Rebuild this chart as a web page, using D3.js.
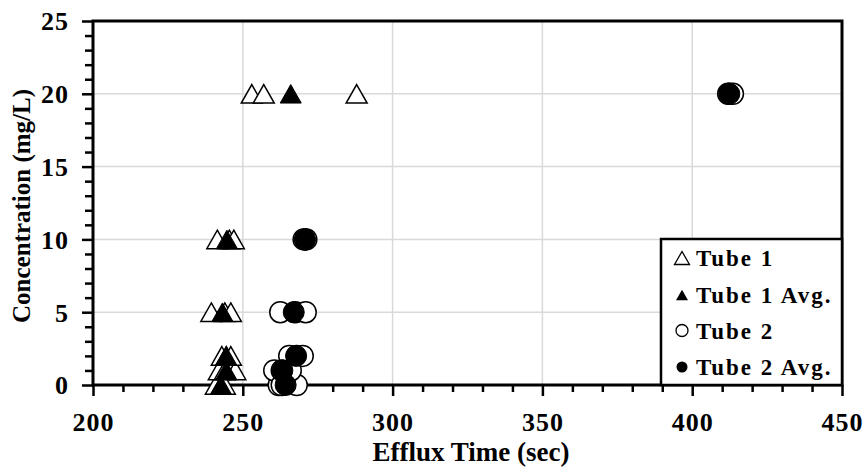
<!DOCTYPE html>
<html><head><meta charset="utf-8">
<script src="https://cdn.jsdelivr.net/npm/d3@7"></script>
<style>
html,body{margin:0;padding:0;background:#fff;}
text{font-family:"Liberation Serif","Times New Roman",serif;font-weight:bold;fill:#000;}
</style></head>
<body><svg id="c" width="867" height="470"></svg>
<script>
// ---- data ----
const concentrations = [0, 1, 2, 5, 10, 20];
const tube1Rep1 = [241, 242, 243, 239.5, 241.5, 253];
const tube1Rep2 = [243, 244, 244.5, 244, 245.5, 257];
const tube1Rep3 = [244, 247.5, 246, 246, 247, 288];
const tube1Avg  = [242.7, 244.5, 244.5, 243.2, 244.7, 266];
const tube2Rep1 = [262, 260.5, 265.5, 262.5, 270.3, 412];
const tube2Rep2 = [263, 263, 268, 267.5, 270.8, 412.5];
const tube2Rep3 = [268, 266, 270, 271, 271.2, 413.6];
const tube2Avg  = [264.3, 263.2, 267.8, 267, 270.8, 412.4];
const xTicks = [200, 250, 300, 350, 400, 450];
const yTicks = [0, 5, 10, 15, 20, 25];
const legendLabels = ["Tube 1", "Tube 1 Avg.", "Tube 2", "Tube 2 Avg."];

// ---- layout ----
const svg = d3.select("#c");
const L = 93, R = 842, T = 21, B = 385;
const x = d3.scaleLinear().domain([200, 450]).range([L, R]);
const y = d3.scaleLinear().domain([0, 25]).range([B, T]);

// gridlines
const g = svg.append("g");
g.selectAll(".gx").data(xTicks.slice(1, -1)).join("line")
  .attr("x1", d => x(d)).attr("x2", d => x(d)).attr("y1", T).attr("y2", B)
  .attr("stroke", "#d9d9d9").attr("stroke-width", 1.5);
g.selectAll(".gy").data(yTicks.slice(1, -1)).join("line")
  .attr("y1", d => y(d)).attr("y2", d => y(d)).attr("x1", L).attr("x2", R)
  .attr("stroke", "#d9d9d9").attr("stroke-width", 1.5);

// minor ticks
const xMinor = d3.range(200, 451, 10).filter(v => v % 50 !== 0);
const yMinor = d3.range(0, 26, 1).filter(v => v % 5 !== 0);
const xMinorAxis = svg.append("g").attr("transform", `translate(0,${B})`)
  .call(d3.axisBottom(x).tickValues(xMinor).tickSize(7).tickFormat(""));
const yMinorAxis = svg.append("g").attr("transform", `translate(${L},0)`)
  .call(d3.axisLeft(y).tickValues(yMinor).tickSize(8).tickFormat(""));
[xMinorAxis, yMinorAxis].forEach(a => {
  a.select(".domain").remove();
  a.selectAll("line").attr("stroke", "#000").attr("stroke-width", 2.5);
});

// major axes
const xAxis = svg.append("g").attr("transform", `translate(0,${B})`)
  .call(d3.axisBottom(x).tickValues(xTicks).tickSize(11).tickPadding(10).tickFormat(d3.format("d")));
const yAxis = svg.append("g").attr("transform", `translate(${L},0)`)
  .call(d3.axisLeft(y).tickValues(yTicks).tickSize(11).tickPadding(13).tickFormat(d3.format("d")));
[xAxis, yAxis].forEach(a => {
  a.select(".domain").remove();
  a.selectAll("line").attr("stroke", "#000").attr("stroke-width", 2.5);
  a.selectAll("text").style("font-size", "26px").style("letter-spacing", "1px")
    .attr("font-family", null);
});
xAxis.selectAll("text").attr("dy", "0.95em");
yAxis.selectAll("text").attr("dy", "0.34em");

// plot border
svg.append("rect").attr("x", L).attr("y", T).attr("width", R - L).attr("height", B - T)
  .attr("fill", "none").attr("stroke", "#000").attr("stroke-width", 3);

// symbol helpers (bbox-centred triangles)
function tri(w, h) {
  return `M0,${-h/2}L${w/2},${h/2}L${-w/2},${h/2}Z`;
}

const pts = (xs) => xs.map((v, i) => ({x: v, c: concentrations[i]}));
const marks = svg.append("g");

// Tube 1 replicates
[tube1Rep1, tube1Rep2, tube1Rep3].forEach(arr => {
  marks.append("g").selectAll("path").data(pts(arr)).join("path")
    .attr("d", tri(21, 18.5))
    .attr("transform", d => `translate(${x(d.x)},${y(d.c)})`)
    .attr("fill", "#fff").attr("stroke", "#000").attr("stroke-width", 1.5);
});
// Tube 1 avg
marks.append("g").selectAll("path").data(pts(tube1Avg)).join("path")
  .attr("d", tri(21, 18.5))
  .attr("transform", d => `translate(${x(d.x)},${y(d.c)})`)
  .attr("fill", "#000").attr("stroke", "#000").attr("stroke-width", 1);
// Tube 2 replicates
[tube2Rep1, tube2Rep2, tube2Rep3].forEach(arr => {
  marks.append("g").selectAll("circle").data(pts(arr)).join("circle")
    .attr("cx", d => x(d.x)).attr("cy", d => y(d.c)).attr("r", 10.5)
    .attr("fill", "#fff").attr("stroke", "#000").attr("stroke-width", 1.5);
});
// Tube 2 avg
marks.append("g").selectAll("circle").data(pts(tube2Avg)).join("circle")
  .attr("cx", d => x(d.x)).attr("cy", d => y(d.c)).attr("r", 10.5)
  .attr("fill", "#000").attr("stroke", "#000").attr("stroke-width", 1);

// legend
const lg = svg.append("g");
lg.append("rect").attr("x", 661).attr("y", 239).attr("width", R - 661).attr("height", B - 239)
  .attr("fill", "#fff").attr("stroke", "#000").attr("stroke-width", 2.5);
const rowsY = [258, 295, 330.5, 367];
const symX = 682;
const legSyms = [
  s => s.append("path").attr("d", tri(15, 13)).attr("fill", "#fff").attr("stroke", "#000").attr("stroke-width", 1.3),
  s => s.append("path").attr("d", tri(12, 10.5)).attr("fill", "#000"),
  s => s.append("circle").attr("r", 6).attr("fill", "#fff").attr("stroke", "#000").attr("stroke-width", 1.3),
  s => s.append("circle").attr("r", 5.5).attr("fill", "#000")
];
legendLabels.forEach((lab, i) => {
  const row = lg.append("g").attr("transform", `translate(${symX},${rowsY[i]})`);
  legSyms[i](row);
  lg.append("text").attr("x", 696).attr("y", rowsY[i]).attr("dy", "0.35em")
    .style("font-size", "23px").style("letter-spacing", "2px").text(lab);
});

// axis titles
svg.append("text").attr("x", 471).attr("y", 461).attr("text-anchor", "middle")
  .style("font-size", "27px").text("Efflux Time (sec)");
svg.append("text").attr("transform", "translate(30,206) rotate(-90)").attr("text-anchor", "middle")
  .style("font-size", "25px").text("Concentration (mg/L)");
</script>
</body></html>
